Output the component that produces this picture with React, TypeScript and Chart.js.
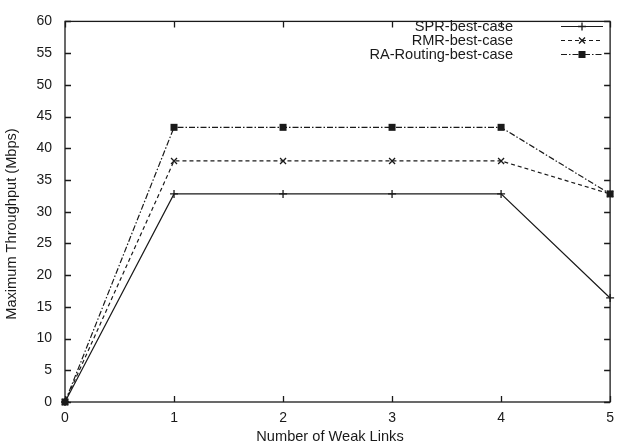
import React, { useEffect, useRef } from "react";
import { Chart, registerables } from "chart.js";

Chart.register(...registerables);

const xValues = [0, 1, 2, 3, 4, 5];
const sprValues = [0, 32.8, 32.8, 32.8, 32.8, 16.4];
const rmrValues = [0, 38.0, 38.0, 38.0, 38.0, 32.8];
const raValues = [0, 43.3, 43.3, 43.3, 43.3, 32.8];
const seriesNames = ["SPR-best-case", "RMR-best-case", "RA-Routing-best-case"];
const xTitle = "Number of Weak Links";
const yTitle = "Maximum Throughput (Mbps)";

const FONT = "'Liberation Sans', Arial, sans-serif";
const INK = "#1a1a1a";
const TXT = 14.6;

const dashes: number[][] = [[], [4, 3], [6, 2, 1.5, 2]];
const markers = ["plus", "x", "square"];

function drawMarker(ctx: CanvasRenderingContext2D, kind: string, x: number, y: number) {
  ctx.save();
  ctx.setLineDash([]);
  ctx.strokeStyle = INK;
  ctx.fillStyle = INK;
  ctx.lineWidth = 1.3;
  if (kind === "plus") {
    ctx.beginPath();
    ctx.moveTo(x - 4, y);
    ctx.lineTo(x + 4, y);
    ctx.moveTo(x, y - 4);
    ctx.lineTo(x, y + 4);
    ctx.stroke();
  } else if (kind === "x") {
    ctx.beginPath();
    ctx.moveTo(x - 3, y - 3);
    ctx.lineTo(x + 3, y + 3);
    ctx.moveTo(x - 3, y + 3);
    ctx.lineTo(x + 3, y - 3);
    ctx.stroke();
  } else {
    ctx.fillRect(x - 3.5, y - 3.5, 7, 7);
  }
  ctx.restore();
}

const framePlugin = {
  id: "gnuplotFrame",
  afterDatasetsDraw(chart: any) {
    const { ctx, chartArea } = chart;
    const xs = chart.scales.x;
    const ys = chart.scales.y;
    const { left, right, top, bottom } = chartArea;
    ctx.save();
    ctx.strokeStyle = INK;
    ctx.lineWidth = 1.3;
    ctx.setLineDash([]);
    ctx.strokeRect(left, top, right - left, bottom - top);
    const tl = 6;
    ctx.beginPath();
    for (const v of xValues) {
      const px = Math.round(xs.getPixelForValue(v)) + 0.5;
      ctx.moveTo(px, bottom);
      ctx.lineTo(px, bottom - tl);
      ctx.moveTo(px, top);
      ctx.lineTo(px, top + tl);
    }
    for (let v = 0; v <= 60; v += 5) {
      const py = Math.round(ys.getPixelForValue(v)) + 0.5;
      ctx.moveTo(left, py);
      ctx.lineTo(left + tl, py);
      ctx.moveTo(right, py);
      ctx.lineTo(right - tl, py);
    }
    ctx.stroke();

    // markers on data
    chart.data.datasets.forEach((ds: any, i: number) => {
      const meta = chart.getDatasetMeta(i);
      meta.data.forEach((pt: any) => drawMarker(ctx, markers[i], pt.x, pt.y));
    });

    // legend
    const rowY = [26, 40, 54];
    ctx.font = `${TXT}px ${FONT}`;
    ctx.textAlign = "right";
    ctx.textBaseline = "middle";
    ctx.fillStyle = INK;
    seriesNames.forEach((name, i) => {
      const y = rowY[i];
      ctx.fillText(name, 513, y + 1);
      ctx.beginPath();
      ctx.setLineDash(dashes[i]);
      ctx.lineWidth = 1.2;
      ctx.moveTo(561, y + 0.5);
      ctx.lineTo(603, y + 0.5);
      ctx.stroke();
      ctx.setLineDash([]);
      drawMarker(ctx, markers[i], 582, y + 0.5);
    });

    // axis titles
    ctx.textAlign = "center";
    ctx.textBaseline = "middle";
    ctx.fillText(xTitle, 330, 437);
    ctx.save();
    ctx.translate(12, 224);
    ctx.rotate(-Math.PI / 2);
    ctx.fillText(yTitle, 0, 0);
    ctx.restore();
    ctx.restore();
  },
};

export default function App() {
  const ref = useRef<HTMLCanvasElement | null>(null);
  useEffect(() => {
    document.body.style.margin = "0";
    const canvas = ref.current!;
    const mk = (data: number[], i: number) => ({
      label: seriesNames[i],
      data: xValues.map((x, k) => ({ x, y: data[k] })),
      borderColor: INK,
      borderWidth: 1.2,
      borderDash: dashes[i],
      pointRadius: 0,
      fill: false,
      tension: 0,
    });
    const chart = new Chart(canvas, {
      type: "line",
      data: {
        datasets: [mk(sprValues, 0), mk(rmrValues, 1), mk(raValues, 2)],
      },
      options: {
        animation: false,
        responsive: false,
        maintainAspectRatio: false,
        layout: { padding: { top: 13, right: 3, left: 0, bottom: 0 } },
        plugins: { legend: { display: false }, tooltip: { enabled: false } },
        scales: {
          x: {
            type: "linear",
            min: 0,
            max: 5,
            afterFit: (s: any) => {
              s.height = 45;
            },
            grid: { display: false, drawTicks: false },
            border: { display: false },
            ticks: {
              stepSize: 1,
              padding: 8,
              color: INK,
              font: { family: FONT, size: 14 },
              maxRotation: 0,
            },
            title: { display: false },
          },
          y: {
            type: "linear",
            min: 0,
            max: 60,
            afterFit: (s: any) => {
              s.width = 65;
            },
            grid: { display: false, drawTicks: false },
            border: { display: false },
            ticks: {
              stepSize: 5,
              padding: 13,
              color: INK,
              font: { family: FONT, size: 14 },
            },
            title: { display: false },
          },
        },
      },
      plugins: [framePlugin],
    });
    return () => chart.destroy();
  }, []);
  return (
    <div style={{ width: 622, height: 447 }}>
      <canvas ref={ref} width={622} height={447} style={{ display: "block" }} />
    </div>
  );
}
